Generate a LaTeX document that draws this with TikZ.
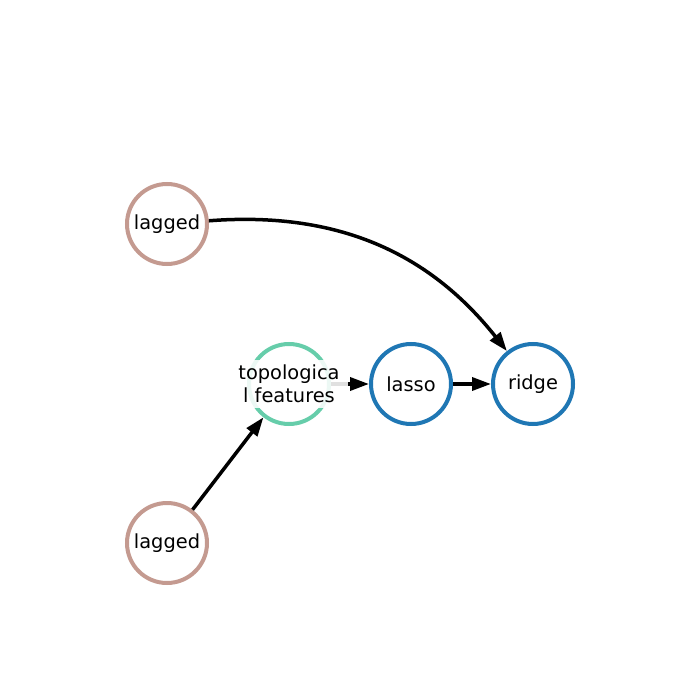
\documentclass[tikz,border=0pt]{standalone}
\usepackage{fontspec}
\setmainfont{DejaVu Sans}
\usetikzlibrary{arrows.meta}
\definecolor{lagc}{HTML}{C49A90}
\definecolor{topc}{HTML}{66CDAA}
\definecolor{modc}{HTML}{1F77B4}
\tikzset{
  nd/.style={circle, draw, line width=4pt, minimum size=80pt, inner sep=0pt, fill=white},
  lbl/.style={font=\fontsize{19.4}{23}\selectfont, align=center, inner xsep=8pt, inner ysep=5pt},
  boxed/.style={fill=white, fill opacity=0.88, text opacity=1},
  edge/.style={line width=3.5pt, -{Triangle[length=19pt,width=13pt]}},
}
\begin{document}
\begin{tikzpicture}[x=1pt,y=-1pt]
\useasboundingbox (0,0) rectangle (700,700);
\node[nd, draw=lagc] (lag1) at (167,224) {};
\node[nd, draw=lagc] (lag2) at (167,543) {};
\node[nd, draw=topc] (topo) at (289,384) {};
\node[nd, draw=modc] (lasso) at (411,384) {};
\node[nd, draw=modc] (ridge) at (533,384) {};
\draw[edge] (lag1) to[bend left=28] (ridge);
\draw[edge] (lag2) -- (topo);
\draw[edge] (topo) -- (lasso);
\draw[edge] (lasso) -- (ridge);
\node[lbl] (tlag1) at (lag1) {lagged};
\node[lbl] (tlag2) at (lag2) {lagged};
\node[lbl, boxed] (ttopo) at (topo) {topologica\\l features};
\node[lbl] (tlasso) at (lasso) {lasso};
\node[lbl] (tridge) at (ridge) {ridge};
\end{tikzpicture}
\end{document}
